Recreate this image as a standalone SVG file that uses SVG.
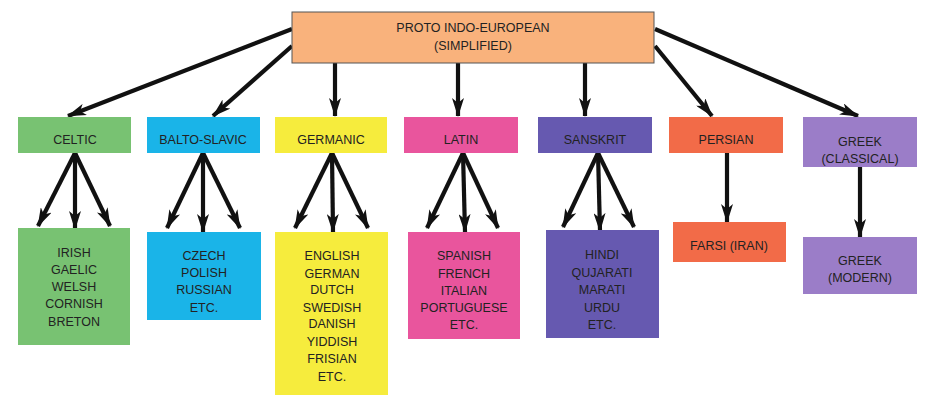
<svg xmlns="http://www.w3.org/2000/svg" width="935" height="406" viewBox="0 0 935 406">
<defs>
<marker id="ah" markerUnits="userSpaceOnUse" markerWidth="19" markerHeight="12" refX="18" refY="6" orient="auto">
<path d="M0,0 L19,6 L0,12 L5,6 Z" fill="#111"/>
</marker>
</defs>
<style>
text{font-family:"Liberation Sans",Arial,sans-serif;font-size:12.5px;fill:#222;text-anchor:middle}
.c line{stroke:#111;stroke-width:4.2;marker-end:url(#ah)}
</style>
<rect width="935" height="406" fill="#fff"/>
<g class="c" id="connectors">
<line x1="292" y1="29" x2="68" y2="116"/>
<line x1="292" y1="46" x2="213" y2="116"/>
<line x1="335" y1="62" x2="335" y2="116"/>
<line x1="458" y1="62" x2="458" y2="116"/>
<line x1="585" y1="62" x2="585" y2="116"/>
<line x1="655" y1="46" x2="712" y2="116"/>
<line x1="655" y1="29" x2="858" y2="116"/>
<line x1="75" y1="153" x2="38" y2="226"/>
<line x1="75" y1="153" x2="75" y2="229"/>
<line x1="75" y1="153" x2="110" y2="226"/>
<line x1="203" y1="153" x2="167" y2="228"/>
<line x1="203" y1="153" x2="203" y2="232"/>
<line x1="203" y1="153" x2="240" y2="228"/>
<line x1="332" y1="153" x2="295" y2="228"/>
<line x1="332" y1="153" x2="333" y2="232"/>
<line x1="332" y1="153" x2="368" y2="228"/>
<line x1="463" y1="153" x2="427" y2="228"/>
<line x1="463" y1="153" x2="465" y2="232"/>
<line x1="463" y1="153" x2="498" y2="228"/>
<line x1="598" y1="153" x2="563" y2="227"/>
<line x1="598" y1="153" x2="600" y2="231"/>
<line x1="598" y1="153" x2="634" y2="227"/>
<line x1="727" y1="153" x2="727" y2="222"/>
<line x1="860" y1="167" x2="860" y2="237"/>
</g>
<g id="pie">
<rect x="292" y="12" width="362" height="51" fill="#F9B27C" stroke="#555" stroke-width="1"/>
<text x="473" y="32">PROTO INDO-EUROPEAN</text>
<text x="473" y="50">(SIMPLIFIED)</text>
</g>
<g id="celtic"><rect x="18" y="117" width="113" height="36" fill="#78C272"/><text x="75" y="144">CELTIC</text></g>
<g id="balto"><rect x="147" y="117" width="113" height="36" fill="#1AB4E8"/><text x="203" y="144">BALTO-SLAVIC</text></g>
<g id="germanic"><rect x="275" y="117" width="112" height="36" fill="#F6EC3D"/><text x="331" y="144">GERMANIC</text></g>
<g id="latin"><rect x="404" y="117" width="114" height="36" fill="#E9559D"/><text x="461" y="144">LATIN</text></g>
<g id="sanskrit"><rect x="538" y="117" width="114" height="36" fill="#6659B0"/><text x="595" y="144">SANSKRIT</text></g>
<g id="persian"><rect x="669" y="117" width="114" height="36" fill="#F26B48"/><text x="726" y="144">PERSIAN</text></g>
<g id="greekc"><rect x="803" y="117" width="114" height="50" fill="#9B7DC8"/><text x="860" y="146">GREEK</text><text x="860" y="163">(CLASSICAL)</text></g>
<g id="celtic-l"><rect x="18" y="228" width="112" height="117" fill="#78C272"/>
<text x="74" y="257">IRISH</text><text x="74" y="274">GAELIC</text><text x="74" y="291">WELSH</text><text x="74" y="308">CORNISH</text><text x="74" y="326">BRETON</text></g>
<g id="balto-l"><rect x="147" y="232" width="114" height="88" fill="#1AB4E8"/>
<text x="204" y="260">CZECH</text><text x="204" y="277">POLISH</text><text x="204" y="294">RUSSIAN</text><text x="204" y="312">ETC.</text></g>
<g id="germanic-l"><rect x="275" y="232" width="113" height="163" fill="#F6EC3D"/>
<text x="332" y="260">ENGLISH</text><text x="332" y="278">GERMAN</text><text x="332" y="294">DUTCH</text><text x="332" y="312">SWEDISH</text><text x="332" y="328">DANISH</text><text x="332" y="346">YIDDISH</text><text x="332" y="363">FRISIAN</text><text x="332" y="381">ETC.</text></g>
<g id="latin-l"><rect x="408" y="232" width="112" height="107" fill="#E9559D"/>
<text x="464" y="260">SPANISH</text><text x="464" y="278">FRENCH</text><text x="464" y="295">ITALIAN</text><text x="464" y="312">PORTUGUESE</text><text x="464" y="329">ETC.</text></g>
<g id="sanskrit-l"><rect x="546" y="230" width="113" height="108" fill="#6659B0"/>
<text x="602" y="259">HINDI</text><text x="602" y="277">QUJARATI</text><text x="602" y="294">MARATI</text><text x="602" y="312">URDU</text><text x="602" y="329">ETC.</text></g>
<g id="farsi"><rect x="673" y="222" width="113" height="40" fill="#F26B48"/><text x="729" y="250">FARSI (IRAN)</text></g>
<g id="greekm"><rect x="803" y="237" width="114" height="57" fill="#9B7DC8"/><text x="860" y="265">GREEK</text><text x="860" y="282">(MODERN)</text></g>
</svg>
